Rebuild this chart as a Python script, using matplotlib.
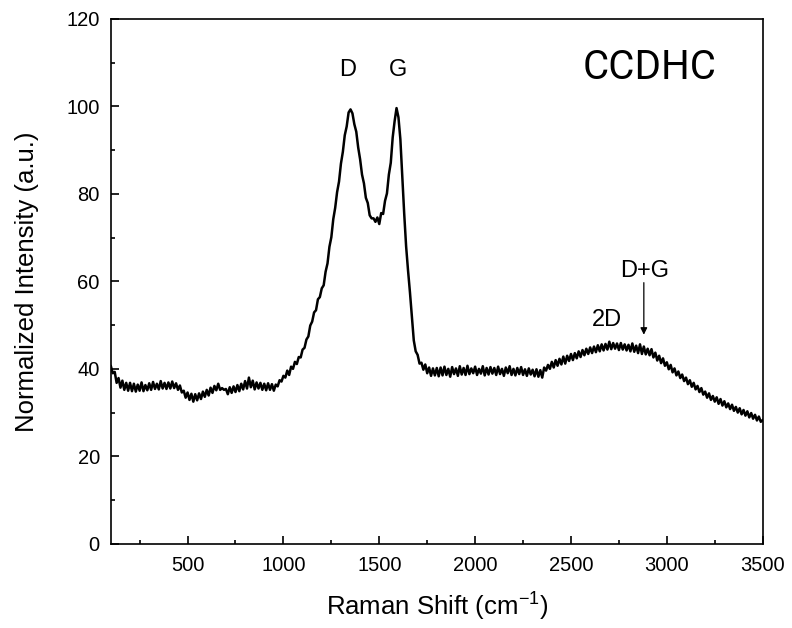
import numpy as np
import matplotlib
matplotlib.use('Agg')
import matplotlib.pyplot as plt
from matplotlib.ticker import MultipleLocator

plt.rcParams['font.family'] = ['Liberation Sans', 'DejaVu Sans']

# Raman shift sampled every 10 cm-1, 100..3500
shift = np.arange(100, 3501, 10)

# intensity, one row per 100 cm-1
intensity = [
    40.6, 39.0, 39.3, 36.8, 37.9, 35.7, 37.3, 35.2, 36.8, 35.0,   # 100
    36.8, 34.9, 36.6, 34.8, 36.4, 35.0, 36.9, 34.9, 36.3, 35.1,   # 200
    36.7, 35.2, 37.0, 35.4, 36.6, 35.3, 37.2, 35.5, 36.8, 35.4,   # 300
    36.9, 35.5, 37.1, 35.6, 36.7, 35.2, 36.2, 34.6, 35.0, 33.4,   # 400
    34.6, 32.9, 34.3, 32.5, 34.2, 32.8, 34.4, 33.1, 34.8, 33.6,   # 500
    35.2, 33.9, 35.7, 34.5, 36.1, 35.1, 36.6, 35.2, 35.6, 35.2,   # 600
    35.4, 34.2, 35.8, 34.5, 36.0, 34.7, 36.3, 34.9, 36.6, 35.3,   # 700
    37.2, 35.5, 38.0, 35.8, 37.3, 35.3, 36.9, 35.5, 36.8, 35.2,   # 800
    36.6, 35.1, 36.7, 35.2, 36.5, 35.0, 36.4, 36.0, 37.4, 37.1,   # 900
    38.4, 38.0, 39.6, 38.6, 40.5, 40.0, 41.6, 41.1, 42.7, 42.6,   # 1000
    44.4, 44.8, 46.7, 47.4, 49.9, 50.8, 52.9, 53.4, 55.9, 56.4,   # 1100
    58.4, 59.1, 62.2, 64.1, 67.9, 70.1, 74.2, 76.8, 80.4, 82.8,   # 1200
    86.9, 89.6, 93.4, 95.4, 98.6, 99.3, 98.4, 95.9, 94.2, 90.6,   # 1300
    87.9, 84.4, 82.4, 79.1, 77.9, 75.1, 74.4, 74.4, 73.6, 74.6,   # 1400
    73.1, 75.6, 75.4, 78.4, 80.1, 84.4, 87.1, 92.9, 96.6, 99.6,   # 1500
    97.5, 92.5, 84.0, 75.5, 68.0, 62.5, 57.5, 52.0, 46.5, 44.0,   # 1600
    43.2, 41.2, 41.4, 39.8, 41.0, 39.0, 40.3, 38.4, 40.1, 38.5,   # 1700
    40.2, 38.3, 40.3, 38.5, 40.5, 38.6, 40.0, 38.2, 40.4, 38.8,   # 1800
    40.1, 38.4, 40.6, 38.7, 40.2, 38.6, 40.7, 38.8, 40.1, 39.0,   # 1900
    40.5, 38.6, 40.0, 38.9, 40.6, 38.5, 40.2, 38.7, 40.4, 38.9,   # 2000
    40.2, 38.6, 40.5, 38.8, 40.0, 38.4, 40.3, 39.0, 40.6, 38.6,   # 2100
    40.0, 38.5, 40.2, 38.8, 40.4, 38.6, 39.9, 38.4, 40.1, 38.7,   # 2200
    39.8, 38.3, 39.9, 38.2, 39.7, 38.0, 40.3, 39.6, 40.9, 40.0,   # 2300
    41.6, 40.3, 42.0, 40.7, 42.3, 41.0, 42.8, 41.2, 43.0, 41.8,   # 2400
    43.4, 42.0, 43.6, 42.4, 44.0, 42.7, 44.3, 43.1, 44.6, 43.4,   # 2500
    44.9, 43.6, 45.1, 43.8, 45.4, 44.0, 45.6, 44.2, 45.7, 44.4,   # 2600
    46.2, 44.5, 45.9, 44.6, 45.8, 44.3, 45.9, 44.4, 45.6, 44.2,   # 2700
    45.5, 44.0, 45.8, 43.9, 45.3, 43.6, 45.6, 43.4, 45.1, 43.3,   # 2800
    44.6, 43.1, 44.5, 42.6, 43.7, 41.9, 43.0, 41.3, 42.4, 40.7,   # 2900
    41.5, 39.9, 40.9, 39.2, 40.1, 38.5, 39.4, 37.9, 38.7, 37.2,   # 3000
    38.0, 36.5, 37.4, 35.9, 36.8, 35.3, 36.1, 34.7, 35.6, 34.1,   # 3100
    34.8, 33.4, 34.4, 32.9, 33.8, 32.5, 33.5, 32.0, 33.1, 31.6,   # 3200
    32.6, 31.2, 32.1, 30.8, 31.8, 30.4, 31.3, 30.0, 31.0, 29.6,   # 3300
    30.6, 29.3, 30.3, 28.9, 29.9, 28.6, 29.5, 28.2, 29.1, 27.9,   # 3400
    28.3,
]

peak_labels = ['D', 'G']
peak_pos = [1336, 1597]

fig = plt.figure(figsize=(7.92, 6.28), dpi=100)
ax = fig.add_axes([0.140, 0.134, 0.823, 0.836])

ax.plot(shift, intensity, color='black', linewidth=1.8)

ax.set_xlim(100, 3500)
ax.set_ylim(0, 120)
ax.xaxis.set_major_locator(MultipleLocator(500))
ax.xaxis.set_minor_locator(MultipleLocator(250))
ax.yaxis.set_major_locator(MultipleLocator(20))
ax.yaxis.set_minor_locator(MultipleLocator(10))
ax.set_xticks([500, 1000, 1500, 2000, 2500, 3000, 3500])

ax.tick_params(which='both', direction='in', top=False, right=False, width=1.2)
ax.tick_params(which='major', length=6, labelsize=14.5)
ax.tick_params(axis='x', which='major', pad=9)
ax.tick_params(axis='y', which='major', pad=8)
ax.tick_params(which='minor', length=3)
for s in ax.spines.values():
    s.set_linewidth(1.2)

ax.set_xlabel('Raman Shift (cm$^{\\mathregular{-1}}$)', fontsize=18.5, labelpad=10)
ax.set_ylabel('Normalized Intensity (a.u.)', fontsize=18.5, labelpad=20)

for lab, pos in zip(peak_labels, peak_pos):
    ax.text(pos, 108.3, lab, fontsize=17, ha='center', va='center')

ax.text(2687, 51.2, '2D', fontsize=17, ha='center', va='center')
ax.text(2885, 62.4, 'D+G', fontsize=17, ha='center', va='center')
ax.annotate('', xy=(2880, 47.8), xytext=(2880, 59.7),
            arrowprops=dict(arrowstyle='-|>', color='black', lw=0.9,
                            mutation_scale=10, shrinkA=0, shrinkB=0))

ax.text(2911, 108.8, 'CCDHC', fontsize=29, ha='center', va='center',
        family=['Liberation Sans Narrow', 'Roboto', 'DejaVu Sans'])

fig.savefig('out.png', dpi=100)
